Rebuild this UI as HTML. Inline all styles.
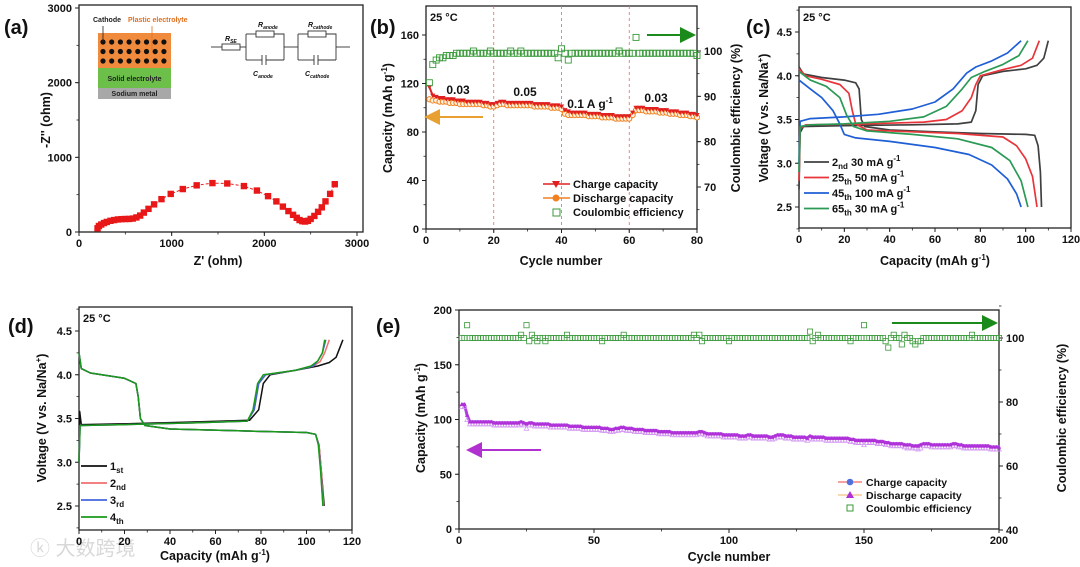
<!DOCTYPE html>
<html><head><meta charset="utf-8"><style>
html,body{margin:0;padding:0;background:#fff;}
svg{display:block;font-family:"Liberation Sans","Noto Sans CJK SC",sans-serif;}
text{font-weight:bold;fill:#111;}
</style></head><body>
<svg id="fig" width="1080" height="567" viewBox="0 0 1080 567" xmlns="http://www.w3.org/2000/svg">
<defs>
<marker id="ah-or" markerWidth="8" markerHeight="8" refX="4" refY="4" orient="auto"><path d="M0,0 L8,4 L0,8 z" fill="#e8a030"/></marker>
<marker id="ah-gr" markerWidth="8" markerHeight="8" refX="4" refY="4" orient="auto"><path d="M0,0 L8,4 L0,8 z" fill="#1a8a1a"/></marker>
<marker id="ah-mg" markerWidth="8" markerHeight="8" refX="4" refY="4" orient="auto"><path d="M0,0 L8,4 L0,8 z" fill="#b030d0"/></marker>
</defs>
<!-- panel letters -->
<text x="4" y="34" font-size="20">(a)</text>
<text x="370" y="34" font-size="20">(b)</text>
<text x="746" y="34" font-size="20">(c)</text>
<text x="8" y="333" font-size="20">(d)</text>
<text x="376" y="333" font-size="20">(e)</text>
<text x="30" y="555" font-size="20" style="fill:#d8d8d8;font-weight:normal">ⓚ 大数跨境</text>

<!-- inset (a) cell schematic -->
<g>
<rect x="98" y="33" width="73" height="35" fill="#f08a3c"/>
<rect x="98" y="68" width="73" height="20" fill="#6cc04a"/>
<rect x="98" y="88" width="73" height="11" fill="#a8a8a8"/>
<g id="dots"></g>
<text x="93" y="22" font-size="7" style="fill:#222">Cathode</text>
<text x="128" y="22" font-size="7" style="fill:#e07020">Plastic electrolyte</text>
<line x1="103" y1="42" x2="103" y2="26" stroke="#222" stroke-width="0.8"/>
<line x1="152" y1="50" x2="152" y2="26" stroke="#e07020" stroke-width="0.8"/>
<text x="134.5" y="81" font-size="7" text-anchor="middle" style="fill:#222">Solid electrolyte</text>
<text x="134.5" y="96" font-size="7" text-anchor="middle" style="fill:#222">Sodium metal</text>
</g>
<g stroke="#333" stroke-width="0.9" fill="none">
<line x1="211" y1="47" x2="222" y2="47"/><rect x="222" y="44" width="18" height="6"/>
<line x1="240" y1="47" x2="246" y2="47"/>
<polyline points="246,34 246,60"/><polyline points="246,34 256,34"/><rect x="256" y="31" width="18" height="6"/><polyline points="274,34 284,34 284,60"/>
<polyline points="246,60 262,60"/><line x1="262" y1="55" x2="262" y2="65"/><line x1="266" y1="55" x2="266" y2="65"/><polyline points="266,60 284,60"/>
<line x1="284" y1="47" x2="298" y2="47"/>
<polyline points="298,34 298,60"/><polyline points="298,34 308,34"/><rect x="308" y="31" width="18" height="6"/><polyline points="326,34 336,34 336,60"/>
<polyline points="298,60 314,60"/><line x1="314" y1="55" x2="314" y2="65"/><line x1="318" y1="55" x2="318" y2="65"/><polyline points="318,60 336,60"/>
<line x1="336" y1="47" x2="350" y2="47"/>
</g>
<g font-size="7" style="font-style:italic">
<text x="225" y="41">R<tspan font-size="5" dy="2">SE</tspan></text>
<text x="258" y="27">R<tspan font-size="5" dy="2">anode</tspan></text>
<text x="308" y="27">R<tspan font-size="5" dy="2">cathode</tspan></text>
<text x="253" y="76">C<tspan font-size="5" dy="2">anode</tspan></text>
<text x="305" y="76">C<tspan font-size="5" dy="2">cathode</tspan></text>
</g>
</svg>
<script>
// ---------- data ----------
const nyqZre = [200,215,240,270,300,340,380,420,460,500,540,580,620,660,700,750,810,890,990,1120,1270,1440,1600,1780,1920,2040,2130,2200,2260,2310,2350,2380,2410,2440,2470,2500,2540,2580,2620,2660,2710,2760];
const nyqZim = [50,80,100,120,135,150,160,168,172,174,175,180,195,220,260,310,370,440,510,575,625,655,650,615,555,480,410,340,280,230,190,160,145,140,150,175,215,270,330,410,510,640];

const bCharge = [117,110,109,108,108,107,107,107,106,106,106,105,105,105,105,105,104,104,103,103, 104,105,105,104,104,104,104,104,104,104,104,103,103,103,103,103,102,102,102,101, 98,97,96,96,96,96,96,95,95,95,95,94,94,94,94,93,93,93,93,93, 96,100,100,100,99,99,99,99,98,98,98,97,97,97,96,96,96,95,95,94];
const bDischarge = [107,106,106,105,105,105,104,104,104,103,103,103,103,103,103,103,102,102,101,101, 102,103,103,102,102,102,102,102,102,102,102,101,101,101,101,101,100,100,100,99, 95,94,94,94,94,94,94,93,93,93,93,92,92,92,92,91,91,91,91,91, 94,98,98,98,97,97,97,97,96,96,96,95,95,95,94,94,94,93,93,92];
const bCE = [93,97,98,98.5,98.5,99,99,99,99.5,99.5,99.5,99.5,99.5,100,99.5,99.5,99.5,99.5,100,99.5, 99.5,99.5,99.5,99.5,100,99.5,99.5,100,99.5,99.5,99.5,99.5,99.5,99.5,99.5,99.5,99.5,99.5,98.5,100.5, 99.5,98,99.5,99.5,99.5,99.5,99.5,99.5,99.5,99.5,99.5,99.5,99.5,99.5,99.5,99.5,100,99.5,99.5,99.5, 99.5,103,99.5,99.5,99.5,99.5,99.5,99.5,99.5,99.5,99.5,99.5,99.5,99.5,99.5,99.5,99.5,99.5,99.5,99];

const c2ndCh = [[0,2.7],[0.5,3.35],[2,3.42],[20,3.43],[50,3.44],[70,3.45],[76,3.47],[78,3.6],[79,3.9],[81,4.0],[90,4.05],[100,4.08],[105,4.12],[108,4.2],[110,4.4]];
const c2ndDis = [[0,4.1],[2,4.02],[10,3.98],[20,3.95],[25,3.92],[26.5,3.85],[27.5,3.5],[29,3.42],[40,3.38],[60,3.36],[80,3.34],[100,3.33],[104,3.32],[105.5,3.2],[106.5,2.9],[107,2.5]];
const c25Ch = [[0,2.8],[0.5,3.4],[3,3.44],[30,3.45],[55,3.47],[65,3.5],[72,3.6],[76,3.75],[78,3.9],[80,4.0],[90,4.07],[98,4.12],[103,4.2],[106,4.4]];
const c25Dis = [[0,4.08],[3,4.0],[10,3.96],[18,3.9],[22,3.8],[23.5,3.6],[25,3.45],[30,3.38],[50,3.36],[70,3.34],[90,3.3],[96,3.2],[100,3.05],[103,2.85],[105,2.5]];
const c45Ch = [[0,3.0],[0.5,3.48],[5,3.51],[20,3.53],[35,3.56],[50,3.62],[60,3.7],[68,3.85],[74,4.03],[78,4.1],[85,4.17],[92,4.26],[98,4.4]];
const c45Dis = [[0,3.95],[5,3.85],[10,3.75],[15,3.6],[18,3.45],[20,3.33],[25,3.29],[40,3.25],[60,3.18],[75,3.1],[85,2.98],[92,2.82],[96,2.65],[98,2.5]];
const c65Ch = [[0,2.9],[0.5,3.42],[5,3.44],[20,3.45],[40,3.48],[55,3.53],[65,3.65],[72,3.85],[76,3.98],[82,4.05],[90,4.13],[97,4.23],[101,4.4]];
const c65Dis = [[0,4.05],[5,3.95],[12,3.88],[18,3.75],[21,3.55],[24,3.42],[30,3.37],[50,3.33],[70,3.28],[85,3.18],[93,3.03],[98,2.8],[101,2.5]];

const d1Ch = [[0,3.0],[0.3,3.58],[1,3.43],[20,3.44],[50,3.46],[75,3.48],[79,3.6],[81,3.9],[84,4.0],[95,4.05],[105,4.1],[110,4.14],[113,4.2],[116,4.4]];
const d2Ch = [[0,3.0],[0.5,3.42],[20,3.43],[50,3.45],[74,3.47],[77,3.6],[79,3.9],[82,4.0],[95,4.05],[103,4.1],[106,4.15],[108,4.25],[110,4.4]];
const d3Ch = [[0,3.0],[0.5,3.42],[20,3.43],[50,3.45],[74,3.47],[77,3.6],[79,3.9],[82,4.0],[95,4.05],[103,4.1],[105,4.16],[107,4.25],[108.5,4.4]];
const d4Ch = [[0,3.0],[0.5,3.42],[20,3.43],[50,3.45],[74,3.47],[76.5,3.6],[78.5,3.9],[81,4.0],[95,4.05],[102,4.1],[105,4.16],[107,4.25],[108,4.4]];
const d1Dis = [[0,4.25],[1,4.07],[5,4.02],[20,3.96],[25,3.9],[26,3.75],[27,3.5],[29,3.42],[40,3.38],[70,3.36],[100,3.34],[104,3.32],[105.5,3.2],[106.5,2.9],[107.8,2.5]];
const d2Dis = [[0,4.25],[1,4.07],[5,4.02],[20,3.96],[25,3.9],[26,3.75],[27,3.5],[29,3.42],[40,3.38],[70,3.36],[100,3.34],[104,3.32],[105.5,3.2],[106.5,2.9],[107.5,2.5]];
const d3Dis = [[0,4.25],[1,4.07],[5,4.02],[20,3.96],[25,3.9],[26,3.75],[27,3.5],[29,3.42],[40,3.38],[70,3.36],[100,3.34],[104,3.32],[105.3,3.2],[106.3,2.9],[107.3,2.5]];
const d4Dis = [[0,4.25],[1,4.07],[5,4.02],[20,3.96],[25,3.9],[26,3.75],[27,3.5],[29,3.42],[40,3.38],[70,3.36],[100,3.34],[104,3.32],[105.2,3.2],[106.2,2.9],[107.2,2.5]];

const eCharge = [114,114,104,98,98,98,98,98,98,98, 98,98,97,97,97,97,97,97,97,97, 97,97,98,97,96,97,97,96,96,96, 96,96,96,95,95,95,95,95,95,95, 94,94,94,94,94,93,93,93,93,93, 93,93,92,92,92,91,91,92,92,93, 93,92,92,92,91,91,91,91,90,90, 90,90,90,89,89,89,89,89,88,88, 88,88,88,88,88,88,88,88,89,89, 88,87,87,87,87,87,87,86,86,86, 86,86,86,85,85,85,86,86,85,85, 85,85,85,85,84,84,85,86,86,86, 85,85,85,84,84,84,84,84,83,85, 84,84,84,84,84,83,83,83,83,83, 83,83,83,83,82,82,81,81,81,81, 81,81,81,81,80,80,80,79,79,78, 78,78,78,78,77,77,77,76,76,76, 77,78,78,78,77,77,77,77,77,77, 77,77,78,78,77,77,76,76,76,76, 76,76,76,76,76,76,75,75,75,75];
const eDischarge = [112,112,100,96,96,96,96,96,96,96, 96,96,95,95,95,95,95,95,95,95, 95,95,96,95,92,95,95,94,94,94, 94,94,94,93,93,93,93,93,93,93, 92,92,92,92,92,91,91,91,91,91, 91,91,90,90,90,89,89,90,90,91, 91,90,90,90,89,89,89,89,88,88, 88,88,88,87,87,87,87,87,86,86, 86,86,86,86,86,86,86,86,87,87, 86,85,85,85,85,85,85,84,84,84, 84,84,84,83,83,83,84,84,83,83, 83,83,83,83,82,82,83,84,84,84, 83,83,83,82,82,82,82,82,81,83, 82,82,82,82,82,81,81,81,81,81, 81,81,81,81,80,80,79,79,79,77, 79,79,79,79,78,78,78,77,77,76, 76,76,76,76,75,74,75,74,74,73, 74,76,76,76,75,75,75,75,75,75, 75,75,76,76,75,75,74,74,74,74, 74,74,74,74,74,74,73,73,73,73];
const eCE = [100,100,104,100,100,100,100,100,100,100, 100,100,100,100,100,100,100,100,100,100, 100,100,101,100,104,99,101,100,99,100, 100,99,100,100,100,100,100,100,100,101, 100,100,100,100,100,100,100,100,100,100, 100,100,99,100,100,100,100,100,100,100, 101,100,100,100,100,100,100,100,100,100, 100,100,100,100,100,100,100,100,100,100, 100,100,100,100,100,100,101,100,101,99, 100,100,100,100,100,100,100,100,100,99, 100,100,100,100,100,100,100,100,100,100, 100,100,100,100,100,100,100,100,100,100, 100,100,100,100,100,100,100,100,100,102, 99,100,101,100,100,100,100,100,100,100, 100,100,100,100,99,100,100,100,100,104, 100,100,100,100,100,100,100,99,97,100, 101,100,100,98,101,100,100,99,98,99, 99,100,100,100,100,100,100,100,100,100, 100,100,100,100,100,100,100,100,100,101, 100,100,100,100,100,100,100,100,100,100];

const ticksA = [0,1000,2000,3000];
const ticksBx = [0,20,40,60,80];
const ticksBy = [0,40,80,120,160];
const ticksBr = [70,80,90,100];
const ticksV = [2.5,3.0,3.5,4.0,4.5];
const ticksCap = [0,20,40,60,80,100,120];
const ticksEx = [0,50,100,150,200];
const ticksEy = [0,50,100,150,200];
const ticksEr = [40,60,80,100];

// ---------- helpers ----------
const NS = "http://www.w3.org/2000/svg";
const svg = document.getElementById('fig');
function el(tag, a, p){ const e=document.createElementNS(NS,tag); for(const k in a) e.setAttribute(k,a[k]); (p||svg).appendChild(e); return e; }
function lin(d0,d1,r0,r1){ return v => r0 + (v-d0)*(r1-r0)/(d1-d0); }
function txt(x,y,s,opt,p){ const t=el('text',Object.assign({x:x,y:y,'font-size':11},opt||{}),p); t.textContent=s; return t; }

// schematic dots
const dotsG=document.getElementById('dots');
for(let r=0;r<3;r++) for(let c=0;c<8;c++){
  const d=el('circle',{cx:103+c*8.7,cy:42+r*9.5,r:2.6,fill:'#111'},dotsG);
  
  
}

function frame(name,x0,y0,x1,y1){
  const r=el('rect',{x:x0,y:y0,width:x1-x0,height:y1-y0,fill:'none',stroke:'#222','stroke-width':1.3});
  
  
}
function xAxis(name,sx,yb,ticks,labels,minorStep,xmin,xmax){
  const g=el('g',{});
  
  
  ticks.forEach((v,i)=>{
    el('line',{x1:sx(v),x2:sx(v),y1:yb,y2:yb+4,stroke:'#222','stroke-width':1},g);
    txt(sx(v),yb+15,labels[i],{'text-anchor':'middle'},g);
  });
  if(minorStep) for(let v=xmin;v<=xmax+1e-9;v+=minorStep) el('line',{x1:sx(v),x2:sx(v),y1:yb,y2:yb+2.5,stroke:'#222','stroke-width':0.8},g);
}
function yAxis(name,sy,xl,ticks,labels,right,minorStep,ymin,ymax){
  const g=el('g',{});
  
  
  const dir=right?1:-1;
  ticks.forEach((v,i)=>{
    el('line',{x1:xl,x2:xl+4*dir,y1:sy(v),y2:sy(v),stroke:'#222','stroke-width':1},g);
    txt(xl+7*dir,sy(v)+4,labels[i],{'text-anchor':right?'start':'end'},g);
  });
  if(minorStep) for(let v=ymin;v<=ymax+1e-9;v+=minorStep) el('line',{x1:xl,x2:xl+2.5*dir,y1:sy(v),y2:sy(v),stroke:'#222','stroke-width':0.8},g);
}
function title(name,x,y,s,rot){
  const t=txt(x,y,'',{'text-anchor':'middle','font-size':12.5, transform: rot?`rotate(-90 ${x} ${y})`:''});
  t.innerHTML=s;
  
  
  return t;
}
function pathPts(pts,sx,sy,color,w,name){
  const d=pts.map((p,i)=>(i?'L':'M')+sx(p[0]).toFixed(1)+','+sy(p[1]).toFixed(1)).join('');
  const p=el('path',{d:d,fill:'none',stroke:color,'stroke-width':w||1.6,'stroke-linejoin':'round'});
  
  
  return p;
}
const SUP1='<tspan font-size="8" dy="-5">-1</tspan><tspan dy="5">)</tspan>';

// ---------- (a) ----------
{
  const sx=lin(0,3000,79,357), sy=lin(0,3000,232,8);
  frame('plot-frame-a',79,5,363,232);
  xAxis('x-axis-a',sx,232,ticksA,ticksA.map(String),500,0,3000);
  yAxis('y-axis-a',sy,79,ticksA,ticksA.map(String),false,500,0,3000);
  title('x-axis-title-a',218,265,"Z' (ohm)");
  title('y-axis-title-a',50,120,"-Z'' (ohm)",true);
  pathPts(nyqZre.map((v,i)=>[v,nyqZim[i]]),sx,sy,'#e82020',1,'nyquist-line').setAttribute('stroke-dasharray','3,2');
  nyqZre.forEach((v,i)=>{
    const m=el('rect',{x:sx(v)-3.2,y:sy(nyqZim[i])-3.2,width:6.4,height:6.4,fill:'#e81818'});
    
    
  });
}
// ---------- (b) ----------
{
  const sx=lin(0,80,426,697), sy=lin(0,160,229,35), sr=lin(70,100,187,51);
  frame('plot-frame-b',426,6,697,229);
  [20,40,60].forEach(v=>{
    const l=el('line',{x1:sx(v),x2:sx(v),y1:6,y2:229,stroke:'#f06060','stroke-width':0.8,'stroke-dasharray':'3,3'});
    
    
  });
  xAxis('x-axis-b',sx,229,ticksBx,ticksBx.map(String),10,0,80);
  yAxis('y-axis-left-b',sy,426,ticksBy,ticksBy.map(String),false,20,0,160);
  yAxis('y-axis-right-b',sr,697,ticksBr,ticksBr.map(String),true,5,65,105);
  title('x-axis-title-b',561,265,'Cycle number');
  title('y-axis-title-left-b',392,118,'Capacity (mAh g'+SUP1,true);
  title('y-axis-title-right-b',740,118,'Coulombic efficiency (%)',true);
  txt(430,21,'25 °C',{'font-size':11});
  pathPts(bCharge.map((v,i)=>[i+1,v]),sx,sy,'#e02020',2,'charge-line-b');
  pathPts(bDischarge.map((v,i)=>[i+1,v]),sx,sy,'#f08020',4,'discharge-line-b');
  bDischarge.forEach((v,i)=>{
    const c=el('circle',{cx:sx(i+1),cy:sy(v),r:2.6,fill:'#fff3e0',stroke:'#f08020','stroke-width':1});
    
    
  });
  bCharge.forEach((v,i)=>{
    const x=sx(i+1), y=sy(v);
    const t=el('path',{d:`M${x-2.6},${y-2} L${x+2.6},${y-2} L${x},${y+2.4}z`,fill:'#e02020'});
    
    
  });
  bCE.forEach((v,i)=>{
    const r=el('rect',{x:sx(i+1)-3,y:sr(v)-3,width:6,height:6,fill:'none',stroke:'#3a9a3a','stroke-width':0.9});
    
    
  });
  [['0.03',458,94],['0.05',525,96],['0.1 A g',590,108],['0.03',656,102]].forEach(a=>{
    const t=txt(a[1],a[2],a[0],{'font-size':12,'text-anchor':'middle'});
    if(a[0].indexOf('A')>0) t.innerHTML='0.1 A g<tspan font-size="8" dy="-5">-1</tspan>';
    
    
  });
  const a1=el('line',{x1:483,y1:117,x2:432,y2:117,stroke:'#e8a030','stroke-width':2,'marker-end':'url(#ah-or)'});
  
  
  const a2=el('line',{x1:647,y1:35,x2:688,y2:35,stroke:'#1a8a1a','stroke-width':2,'marker-end':'url(#ah-gr)'});
  
  
  // legend
  const lg=el('g',{});
  
  
  el('line',{x1:543,x2:570,y1:184,y2:184,stroke:'#e02020','stroke-width':1.5},lg);
  el('path',{d:'M552,181 L560,181 L556,188z',fill:'#e02020'},lg);
  txt(573,188,'Charge capacity',{'font-size':11},lg);
  el('line',{x1:543,x2:570,y1:198,y2:198,stroke:'#f08020','stroke-width':1.5},lg);
  el('circle',{cx:556,cy:198,r:3.5,fill:'#f08020'},lg);
  txt(573,202,'Discharge capacity',{'font-size':11},lg);
  el('rect',{x:553,y:209,width:7,height:7,fill:'none',stroke:'#3a9a3a'},lg);
  txt(573,216,'Coulombic efficiency',{'font-size':11},lg);
}
// ---------- (c) ----------
{
  const sx=lin(0,120,799,1071), sy=lin(2.5,4.5,207,32);
  frame('plot-frame-c',799,7,1071,228);
  xAxis('x-axis-c',sx,228,ticksCap,ticksCap.map(String),10,0,120);
  yAxis('y-axis-c',sy,799,ticksV,ticksV.map(v=>v.toFixed(1)),false,0.25,2.25,4.75);
  title('x-axis-title-c',935,265,'Capacity (mAh g'+SUP1);
  title('y-axis-title-c',768,118,'Voltage (V vs. Na/Na<tspan font-size="8" dy="-5">+</tspan><tspan dy="5">)</tspan>',true);
  txt(803,21,'25 °C',{'font-size':11});
  const cs=[['#404040',c2ndCh,c2ndDis,'2nd'],['#e8353a',c25Ch,c25Dis,'25th'],['#1f5fd6',c45Ch,c45Dis,'45th'],['#2a9a55',c65Ch,c65Dis,'65th']];
  cs.forEach(c=>{ pathPts(c[1],sx,sy,c[0],1.7,'charge-curve-'+c[3]); pathPts(c[2],sx,sy,c[0],1.7,'discharge-curve-'+c[3]); });
  const lg=el('g',{});
  
  
  const labs=[['2','nd','30'],['25','th','50'],['45','th','100'],['65','th','30']];
  labs.forEach((l,i)=>{
    const y=162+i*15.5;
    el('line',{x1:804,x2:829,y1:y,y2:y,stroke:cs[i][0],'stroke-width':1.8},lg);
    const t=txt(832,y+4,'',{'font-size':11},lg);
    t.innerHTML=l[0]+'<tspan font-size="8" dy="3">'+l[1]+'</tspan><tspan dy="-3"> '+l[2]+' mA g</tspan><tspan font-size="8" dy="-5">-1</tspan>';
  });
}
// ---------- (d) ----------
{
  const sx=lin(0,120,79,352), sy=lin(2.5,4.5,506,331);
  frame('plot-frame-d',79,307,352,530);
  xAxis('x-axis-d',sx,530,ticksCap,ticksCap.map(String),10,0,120);
  yAxis('y-axis-d',sy,79,ticksV,ticksV.map(v=>v.toFixed(1)),false,0.25,2.25,4.75);
  title('x-axis-title-d',215,560,'Capacity (mAh g'+SUP1);
  title('y-axis-title-d',46,418,'Voltage (V vs. Na/Na<tspan font-size="8" dy="-5">+</tspan><tspan dy="5">)</tspan>',true);
  txt(83,322,'25 °C',{'font-size':11});
  const ds=[['#111',d1Ch,d1Dis,'1st'],['#f07070',d2Ch,d2Dis,'2nd'],['#4466dd',d3Ch,d3Dis,'3rd'],['#1a9a1a',d4Ch,d4Dis,'4th']];
  ds.forEach(c=>{ pathPts(c[1],sx,sy,c[0],1.5,'charge-curve-'+c[3]); pathPts(c[2],sx,sy,c[0],1.5,'discharge-curve-'+c[3]); });
  const lg=el('g',{});
  
  
  [['1','st'],['2','nd'],['3','rd'],['4','th']].forEach((l,i)=>{
    const y=466+i*17;
    el('line',{x1:81,x2:107,y1:y,y2:y,stroke:ds[i][0],'stroke-width':1.8},lg);
    const t=txt(110,y+4,'',{'font-size':11},lg);
    t.innerHTML=l[0]+'<tspan font-size="8" dy="3">'+l[1]+'</tspan>';
  });
}
// ---------- (e) ----------
{
  const sx=lin(0,200,459,999), sy=lin(0,200,529,310), sr=lin(40,100,530,338);
  frame('plot-frame-e',459,310,999,529);
  xAxis('x-axis-e',sx,529,ticksEx,ticksEx.map(String),25,0,200);
  yAxis('y-axis-left-e',sy,459,ticksEy,ticksEy.map(String),false,25,0,200);
  yAxis('y-axis-right-e',sr,999,ticksEr,ticksEr.map(String),true,10,40,110);
  title('x-axis-title-e',729,561,'Cycle number');
  title('y-axis-title-left-e',425,418,'Capacity (mAh g'+SUP1,true);
  title('y-axis-title-right-e',1066,418,'Coulombic efficiency (%)',true);
  pathPts(eCharge.map((v,i)=>[i+1,v]),sx,sy,'#b040e0',3,'charge-line-e');
  eDischarge.forEach((v,i)=>{
    const x=sx(i+1), y=sy(v);
    const t=el('path',{d:`M${x-2.3},${y+2} L${x+2.3},${y+2} L${x},${y-2.2}z`,fill:'none',stroke:'#d090f0','stroke-width':0.7});
    
    
  });
  eCharge.forEach((v,i)=>{
    const x=sx(i+1), y=sy(v);
    const t=el('path',{d:`M${x-2.2},${y+1.8} L${x+2.2},${y+1.8} L${x},${y-2}z`,fill:'#b030d8'});
    
    
  });
  eCE.forEach((v,i)=>{
    const r=el('rect',{x:sx(i+1)-2.6,y:sr(v)-2.6,width:5.2,height:5.2,fill:'none',stroke:'#3a9a3a','stroke-width':0.8});
    
    
  });
  const a1=el('line',{x1:541,y1:450,x2:474,y2:450,stroke:'#b030d0','stroke-width':2,'marker-end':'url(#ah-mg)'});
  
  
  const a2=el('line',{x1:892,y1:323,x2:990,y2:323,stroke:'#1a8a1a','stroke-width':2,'marker-end':'url(#ah-gr)'});
  
  
  const lg=el('g',{});
  
  
  el('line',{x1:838,x2:862,y1:482,y2:482,stroke:'#f04040','stroke-width':1},lg);
  el('circle',{cx:850,cy:482,r:3.3,fill:'#5070e0'},lg);
  txt(866,486,'Charge capacity',{'font-size':10.5},lg);
  el('line',{x1:838,x2:862,y1:495,y2:495,stroke:'#f0b060','stroke-width':1},lg);
  el('path',{d:'M846,498 L854,498 L850,491z',fill:'#b030d8'},lg);
  txt(866,499,'Discharge capacity',{'font-size':10.5},lg);
  el('rect',{x:847,y:505,width:6,height:6,fill:'none',stroke:'#3a9a3a'},lg);
  txt(866,512,'Coulombic efficiency',{'font-size':10.5},lg);
}
</script>
</body></html>
